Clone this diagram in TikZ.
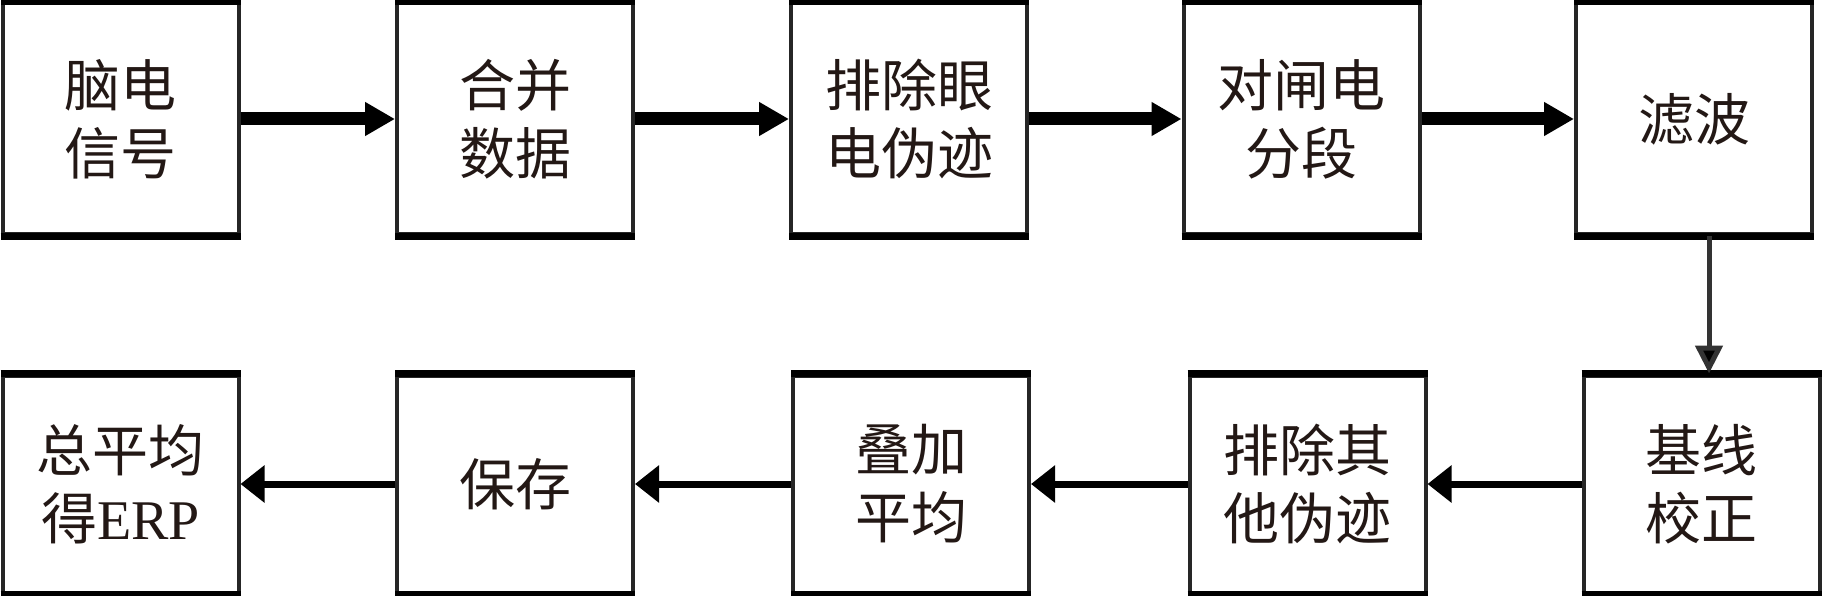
\documentclass[tikz,border=0pt]{standalone}
\usepackage{fontspec}
\setmainfont{Liberation Serif}
\newfontfamily\cjk{Noto Sans CJK SC}
\usetikzlibrary{arrows.meta}
\definecolor{inkc}{HTML}{231815}
\begin{document}
\begin{tikzpicture}[x=1pt,y=-1pt,
  box/.style={draw=black!85,line width=4pt,fill=white,minimum width=236pt,inner sep=0pt,
    align=center,text=inkc,font=\cjk\fontsize{56}{68}\selectfont},
  toprow/.style={box,minimum height=231pt},
  botrow/.style={box,minimum height=217pt},
  thickarrow/.style={line width=13pt,-{Triangle[length=30pt,width=32pt]}},
  thinarrow/.style={line width=7pt,-{Triangle[length=24pt,width=36pt]}},
  downarrow/.style={draw=black!80,line width=5pt,-{Triangle[length=28pt,width=27pt,fill=black]}},
  edgeline/.style={line width=7pt,black,line cap=butt}]
\useasboundingbox (0,0) rectangle (1824,596);
\fill[white] (0,0) rectangle (1824,596);
% top row
\node[toprow] (b1) at (120.5,119) {脑电\\信号};
\node[toprow] (b2) at (515,119) {合并\\数据};
\node[toprow] (b3) at (909,119) {排除眼\\电伪迹};
\node[toprow] (b4) at (1301.5,119) {对闸电\\分段};
\node[toprow] (b5) at (1694,119) {滤波};
% bottom row
\node[botrow] (c1) at (120.5,484) {总平均\\得{\rmfamily ERP}};
\node[botrow] (c2) at (515,484) {保存};
\node[botrow] (c3) at (911,484) {叠加\\平均};
\node[botrow] (c4) at (1307.5,484) {排除其\\他伪迹};
\node[botrow] (c5) at (1701.5,484) {基线\\校正};
% thick top/bottom edges
\foreach \n in {b1,b2,b3,b4,b5,c1,c2,c3,c4,c5}{
  \draw[edgeline] (\n.north west) -- (\n.north east);
  \draw[edgeline] (\n.south west) -- (\n.south east);
}
% connectors
\draw[thickarrow] (b1.east) -- (b2.west);
\draw[thickarrow] (b2.east) -- (b3.west);
\draw[thickarrow] (b3.east) -- (b4.west);
\draw[thickarrow] (b4.east) -- (b5.west);
\coordinate (vx) at (1709,0);
\draw[downarrow] (b5.south -| vx) -- (c5.north -| vx);
\draw[thinarrow] (c5.west) -- (c4.east);
\draw[thinarrow] (c4.west) -- (c3.east);
\draw[thinarrow] (c3.west) -- (c2.east);
\draw[thinarrow] (c2.west) -- (c1.east);
\end{tikzpicture}
\end{document}
